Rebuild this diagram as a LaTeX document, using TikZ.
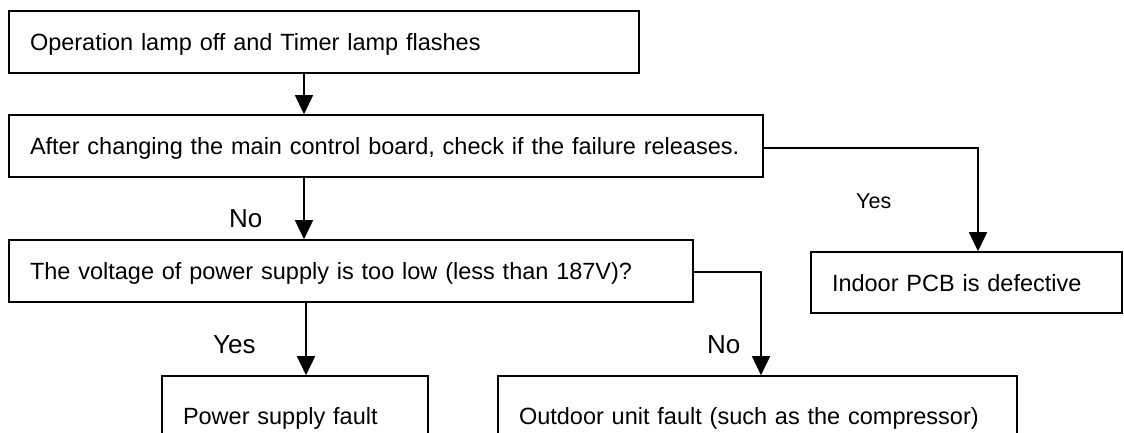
\documentclass[tikz,border=0pt]{standalone}
\usepackage{fontspec}
\setmainfont{Liberation Sans}
\usetikzlibrary{arrows.meta}
\tikzset{
  box/.style={draw, line width=1.6pt, rectangle, inner xsep=21pt, inner ysep=0pt,
    align=left, text height=17.5pt, text depth=0pt,
    font=\fontsize{23.5}{28}\selectfont},
  arr/.style={line width=1.6pt, -{Triangle[length=19pt,width=18pt]}},
  lbl/.style={inner sep=0pt, anchor=base west, font=\fontsize{26}{30}\selectfont},
  lbls/.style={inner sep=0pt, anchor=base west, font=\fontsize{21.5}{26}\selectfont}
}
\begin{document}
\begin{tikzpicture}[x=1pt,y=-1pt]
\clip (0,0) rectangle (1124,432);
\fill[white] (0,0) rectangle (1124,432);
\node[box, minimum width=630pt, minimum height=62pt, text width=588pt] (b1) at (324,42) {\mbox{Operation lamp off and Timer lamp flashes}};
\node[box, minimum width=754pt, minimum height=62pt, text width=712pt] (b2) at (386,146) {\mbox{After changing the main control board, check if the failure releases.}};
\node[box, minimum width=684pt, minimum height=62pt, text width=642pt] (b3) at (351,271) {\mbox{The voltage of power supply is too low (less than 187V)?}};
\node[box, minimum width=311pt, minimum height=61pt, text width=269pt] (ind) at (966.5,282.5) {\mbox{Indoor PCB is defective}};
\node[box, minimum width=266pt, minimum height=78.5pt, text width=224pt] (pow) at (295,415.25) {\mbox{Power supply fault}};
\node[box, minimum width=519pt, minimum height=78.5pt, text width=477pt] (out) at (757.5,415.25) {\mbox{Outdoor unit fault (such as the compressor)}};
\coordinate (k1) at (304,0);
\coordinate (k2) at (978,148);
\coordinate (k3) at (761,272);
\coordinate (k4) at (306,0);
\draw[arr] (b1.south -| k1) -- (b2.north -| k1);
\draw[arr] (b2.south -| k1) -- (b3.north -| k1);
\draw[arr] (b2.east |- k2) -| (ind.north -| k2);
\draw[arr] (b3.south -| k4) -- (pow.north -| k4);
\draw[arr] (b3.east |- k3) -| (out.north -| k3);
\node[lbl] (no1) at (229,227) {No};
\node[lbls] (yes1) at (856,208) {Yes};
\node[lbl] (yes2) at (213,353) {Yes};
\node[lbl] (no2) at (707,353) {No};
\end{tikzpicture}
\end{document}
